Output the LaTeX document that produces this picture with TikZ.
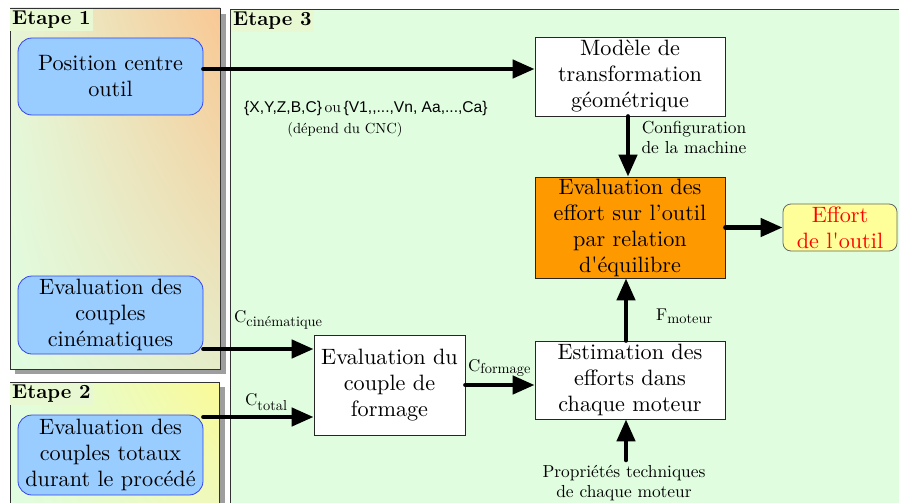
\documentclass[tikz,border=0pt]{standalone}
\usepackage{fontspec}
\setmainfont{lmroman10-regular.otf}[BoldFont=lmroman10-bold.otf]
\newfontfamily\arialf{Liberation Sans}
\usetikzlibrary{arrows.meta,shadings}
\definecolor{panelgreen}{HTML}{E0FDE0}
\definecolor{peach}{HTML}{F9C894}
\definecolor{paleyellow}{HTML}{FAFA96}
\definecolor{bluefill}{HTML}{99CCFF}
\definecolor{blueline}{HTML}{3344EE}
\definecolor{orangefill}{HTML}{FF9900}
\definecolor{yellowfill}{HTML}{FFFF99}
\definecolor{labelbg}{HTML}{E8F8D2}
\definecolor{lrone}{HTML}{E6ECC8}
\definecolor{ulone}{HTML}{E6F6D6}
\definecolor{lrtwo}{HTML}{EEF8C0}
\newcommand\mainfs{\fontsize{22.2}{26}\selectfont}
\newcommand\smallfs{\fontsize{17.4}{20}\selectfont}
\newcommand\tinyfs{\fontsize{14.6}{16}\selectfont}
\newcommand\etapefs{\bfseries\fontsize{20}{21}\selectfont}
\newcommand\subfs{\fontsize{14.4}{15}\selectfont}
\newcommand\Csub[3]{#1\raisebox{#3}{\subfs #2}}
\begin{document}
\begin{tikzpicture}[x=1pt,y=-1pt,
  panel/.style={draw=black!80, line width=0.8pt},
  shadowbox/.style={fill=black!38},
  bluebox/.style={draw=blueline, fill=bluefill, rounded corners=14pt, line width=0.8pt,
    minimum width=185pt, align=center, font=\mainfs, inner sep=0pt},
  whitebox/.style={draw=black!85, fill=white, line width=0.8pt, align=center,
    font=\mainfs, inner sep=0pt},
  arr/.style={line width=4.5pt, -{Triangle[length=22pt,width=18pt]}, line cap=round},
  smalltxt/.style={font=\smallfs, align=center, inner sep=0pt},
  etape/.style={font=\etapefs, fill=labelbg, inner sep=2pt, anchor=north west}
]
\clip (0,0) rectangle (899,503);
\fill[white] (0,0) rectangle (899,503);
% panels
\fill[shadowbox] (15,14) rectangle (226,374);
\shade[upper left=ulone, upper right=peach, lower left=panelgreen, lower right=lrone] (10,8) rectangle (220,369);
\draw[panel] (10,8) rectangle (220,369);
\fill[shadowbox] (15,387) rectangle (225,520);
\shade[upper left=panelgreen, upper right=paleyellow, lower left=panelgreen, lower right=lrtwo] (10,382) rectangle (219,520);
\draw[panel] (10,382) rectangle (219,520);
\fill[panelgreen] (230,9) rectangle (930,530);
\draw[panel] (230,9) rectangle (930,530);
\node[etape] (e1) at (10,9) {Etape 1};
\node[etape] (e2) at (10,383) {Etape 2};
\node[etape] (e3) at (231,10) {Etape 3};
% nodes
\node[bluebox, minimum height=77pt] (pos) at (110.5,76.5) {Position centre\\outil};
\node[bluebox, minimum height=78pt] (cin) at (110.5,315) {Evaluation des\\couples\\cinématiques};
\node[bluebox, minimum height=80pt] (tot) at (110.5,455) {Evaluation des\\couples totaux\\durant le procédé};
\node[whitebox, minimum width=190pt, minimum height=79pt] (mod) at (630,76.5) {Modèle de\\transformation\\géométrique};
\node[whitebox, fill=orangefill, minimum width=190pt, minimum height=101pt] (eq) at (630,227.5) {Evaluation des\\effort sur l’outil\\par relation\\d\textquotesingle équilibre};
\node[draw=black!60, fill=yellowfill, rounded corners=8pt, line width=0.8pt, minimum width=114pt, minimum height=47pt, inner sep=0pt, align=center, font=\mainfs, text=red] (eff) at (840,227.5) {Effort\\de l\textquotesingle outil};
\node[whitebox, minimum width=151pt, minimum height=100pt] (form) at (389.5,385) {Evaluation du\\couple de\\formage};
\node[whitebox, minimum width=190pt, minimum height=78pt] (est) at (630,380) {Estimation des\\efforts dans\\chaque moteur};
% labels
\node[anchor=west, inner sep=0pt, font=\fontsize{15.6}{17}\selectfont] (xyz) at (244,108) {{\arialf\{X,Y,Z,B,C\}}\,ou\,{\arialf\{V1,,...,Vn, Aa,...,Ca\}}};
\node[inner sep=0pt, font=\tinyfs] (cnc) at (345,130) {(dépend du CNC)};
\node[smalltxt] (conf) at (694,137) {Configuration\\de la machine};
\node[smalltxt] (prop) at (624,483) {Propriétés techniques\\de chaque moteur};
\node[anchor=west, inner sep=0pt, font=\fontsize{17}{20}\selectfont] (lcin) at (234,320) {\Csub{C}{cinématique}{-0.5ex}};
\node[anchor=west, inner sep=0pt, font=\fontsize{17}{20}\selectfont] (ltot) at (245,402) {\Csub{C}{total}{-0.6ex}};
\node[anchor=west, inner sep=0pt, font=\fontsize{17}{20}\selectfont] (lform) at (468,368) {\Csub{C}{formage}{-0.25ex}};
\node[anchor=west, inner sep=0pt, font=\fontsize{17}{20}\selectfont] (lmot) at (656,316) {\Csub{F}{moteur}{-0.45ex}};
% arrows
\draw[arr] ([yshift=7.5pt]pos.east) -- ([yshift=7.5pt]mod.west);
\draw[arr] ([xshift=-2pt]mod.south) -- ([xshift=-2pt]eq.north);
\draw[arr] (eq.east) -- (eff.west);
\draw[arr] ([xshift=-4pt]est.north) -- ([xshift=-4pt]eq.south);
\draw[arr] ([yshift=-34pt]cin.east) -- ([yshift=36pt]form.west);
\draw[arr] ([yshift=38pt]tot.east) -- ([yshift=-32pt]form.west);
\draw[arr] (form.east) -- ([yshift=-5pt]est.west);
\draw[arr] ([xshift=2pt,yshift=5pt]prop.north) -- ([xshift=-4pt]est.south);
\end{tikzpicture}
\end{document}
